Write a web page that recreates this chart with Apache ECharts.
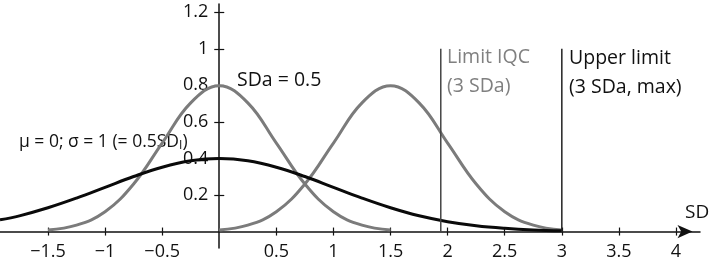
<!DOCTYPE html>
<html>
<head>
<meta charset="utf-8">
<script src="https://cdn.jsdelivr.net/npm/echarts@6/dist/echarts.min.js"></script>
<style>
  html, body { margin: 0; padding: 0; background: #fff; }
  #chart { width: 711px; height: 263px; }
</style>
</head>
<body>
<div id="chart"></div>
<script>
// values
var xTicks = [-1.5, -1, -0.5, 0.5, 1, 1.5, 2, 2.5, 3, 3.5, 4];
var yTicks = [0.2, 0.4, 0.6, 0.8, 1, 1.2];

// mu = 0, sigma = 1 (black)
var blackX = [-1.92, -1.75, -1.5, -1.25, -1, -0.75, -0.5, -0.25, 0, 0.25, 0.5, 0.75, 1, 1.25, 1.5, 1.75, 2, 2.25, 2.5, 2.75, 3];
var blackY = [0.064, 0.086, 0.13, 0.183, 0.242, 0.301, 0.352, 0.387, 0.399, 0.387, 0.352, 0.301, 0.242, 0.183, 0.13, 0.086, 0.054, 0.032, 0.018, 0.009, 0.004];

// SDa = 0.5 around 0 (grey)
var greyAX = [-1.5, -1.25, -1, -0.75, -0.5, -0.25, 0, 0.25, 0.5, 0.75, 1, 1.25, 1.5];
var greyAY = [0.009, 0.035, 0.108, 0.26, 0.484, 0.704, 0.798, 0.704, 0.484, 0.26, 0.108, 0.035, 0.009];

// SDa = 0.5 around 1.5 (grey)
var greyBX = [0, 0.25, 0.5, 0.75, 1, 1.25, 1.5, 1.75, 2, 2.25, 2.5, 2.75, 3];
var greyBY = [0.009, 0.035, 0.108, 0.26, 0.484, 0.704, 0.798, 0.704, 0.484, 0.26, 0.108, 0.035, 0.009];

// vertical limits
var limitIqc = 1.94;
var limitUpper = 3;
var limitTop = 1.0;

var X_MIN = -1.92, X_MAX = 4.21;
var Y_MIN = -0.09, Y_MAX = 1.245;

function pairs(xs, ys) {
    return xs.map(function (x, i) { return [x, ys[i]]; });
}

var FONT = '"Open Sans", "Noto Sans", sans-serif';
var GREY = '#7b7b7b';

var W = 711, H = 263, GRID_L = 0, GRID_R = 11, GRID_T = 4, GRID_B = 15;
var gw = W - GRID_L - GRID_R, gh = H - GRID_T - GRID_B;
// axes cross at (0, 0): shift them there with offset
var zeroPx = (0 - X_MIN) / (X_MAX - X_MIN) * gw;
var zeroPy = (0 - Y_MIN) / (Y_MAX - Y_MIN) * gh; // from grid bottom

var chart = echarts.init(document.getElementById('chart'));

var tickStyle = { color: '#111', width: 1.2 };

var option = {
    animation: false,
    grid: { left: GRID_L, right: GRID_R, top: GRID_T, bottom: GRID_B, containLabel: false, outerBoundsMode: 'none' },
    xAxis: [
        {
            type: 'value', min: X_MIN, max: X_MAX, position: 'bottom',
            offset: -zeroPy,
            splitLine: { show: false },
            axisLine: {
                onZero: false,
                symbol: ['none', 'arrow'],
                symbolSize: [10, 15],
                symbolOffset: [0, -7.5],
                lineStyle: { color: '#111', width: 1.5 }
            },
            axisTick: { customValues: xTicks, length: 4, lineStyle: tickStyle },
            axisLabel: {
                customValues: xTicks, margin: 11,
                fontFamily: FONT, fontSize: 18, color: '#111',
                formatter: function (v) { return v < 0 ? '\u2212' + Math.abs(v) : String(v); }
            }
        },
        {
            // second axis only for the upward half of the crossing ticks
            type: 'value', min: X_MIN, max: X_MAX, position: 'top',
            offset: -(gh - zeroPy),
            splitLine: { show: false },
            axisLine: { show: false, onZero: false },
            axisTick: { customValues: xTicks, length: 4, lineStyle: tickStyle },
            axisLabel: { show: false }
        }
    ],
    yAxis: [
        {
            type: 'value', min: Y_MIN, max: Y_MAX, position: 'left',
            offset: -zeroPx,
            splitLine: { show: false },
            axisLine: { onZero: false, lineStyle: { color: '#111', width: 1.5 } },
            axisTick: { customValues: yTicks, length: 5, lineStyle: tickStyle },
            axisLabel: {
                customValues: yTicks, margin: 11,
                fontFamily: FONT, fontSize: 18, color: '#111'
            }
        },
        {
            type: 'value', min: Y_MIN, max: Y_MAX, position: 'right',
            offset: -(gw - zeroPx),
            splitLine: { show: false },
            axisLine: { show: false, onZero: false },
            axisTick: { customValues: yTicks, length: 5, lineStyle: tickStyle },
            axisLabel: { show: false }
        }
    ],
    series: [
        {
            type: 'line', data: pairs(greyAX, greyAY), smooth: 0.4,
            showSymbol: false, symbol: 'none',
            lineStyle: { color: GREY, width: 3 }
        },
        {
            type: 'line', data: pairs(greyBX, greyBY), smooth: 0.4,
            showSymbol: false, symbol: 'none',
            lineStyle: { color: GREY, width: 3 }
        },
        {
            type: 'line', data: pairs(blackX, blackY), smooth: 0.4,
            showSymbol: false, symbol: 'none',
            lineStyle: { color: '#0a0a0a', width: 3 }
        },
        {
            type: 'line', data: [[limitIqc, 0], [limitIqc, limitTop]],
            showSymbol: false, symbol: 'none',
            lineStyle: { color: '#444', width: 1.5 }
        },
        {
            type: 'line', data: [[limitUpper, 0], [limitUpper, limitTop]],
            showSymbol: false, symbol: 'none',
            lineStyle: { color: '#222', width: 1.5 }
        }
    ],
    graphic: [
        {
            type: 'text', left: 237, top: 70,
            style: { text: 'SDa = 0.5', font: '19.5px ' + FONT, fill: '#111' }
        },
        {
            type: 'text', left: 19, top: 133,
            style: {
                text: '{a|\u03bc = 0; \u03c3 = 1 (= 0.5SD}{s|I}{a|)}',
                rich: {
                    a: { fontFamily: FONT, fontSize: 17.5, lineHeight: 19, fill: '#111', color: '#111' },
                    s: { fontFamily: FONT, fontSize: 12, lineHeight: 12, verticalAlign: 'bottom', fill: '#111', color: '#111' }
                }
            }
        },
        {
            type: 'text', left: 447, top: 43,
            style: { text: 'Limit IQC\n(3 SDa)', font: '19.5px ' + FONT, lineHeight: 29, fill: '#808080' }
        },
        {
            type: 'text', left: 569, top: 44,
            style: { text: 'Upper limit\n(3 SDa, max)', font: '19.5px ' + FONT, lineHeight: 29, fill: '#111' }
        },
        {
            type: 'text', left: 685, top: 203,
            style: { text: 'SD', font: '19px ' + FONT, fill: '#111' }
        }
    ]
};

chart.setOption(option);
</script>
</body>
</html>
